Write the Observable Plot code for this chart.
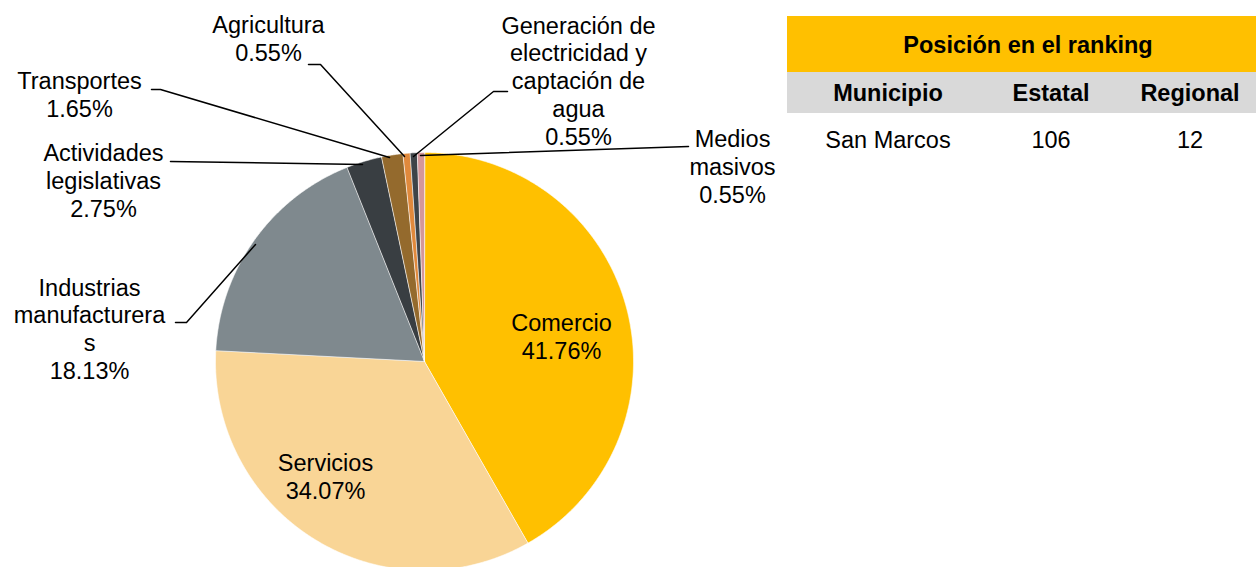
<!DOCTYPE html>
<html>
<head>
<meta charset="utf-8">
<script src="https://cdn.jsdelivr.net/npm/d3@7"></script>
<script src="https://cdn.jsdelivr.net/npm/@observablehq/plot@0.6"></script>
<style>
  html, body { margin: 0; padding: 0; background: #fff; }
  body { width: 1256px; height: 567px; position: relative; overflow: hidden; font-family: "Liberation Sans", Arial, sans-serif; }
  #chart { position: absolute; left: 0; top: 0; }
  .band { position: absolute; left: 787px; width: 469px; }
  .cell { position: absolute; transform: translate(-50%, -50%); font-size: 23.5px; color: #000; white-space: nowrap; }
  .b { font-weight: bold; }
</style>
</head>
<body>
<div id="chart"></div>
<div class="band" style="top:16px;height:56px;background:#FFC000"></div>
<div class="band" style="top:72px;height:41px;background:#D9D9D9"></div>
<div id="table"></div>
<script>
// ---- data ----
const sectors = ["Comercio", "Servicios", "Industrias manufactureras", "Actividades legislativas", "Transportes", "Agricultura", "Generación de electricidad y captación de agua", "Medios masivos"];
const shares = [41.76, 34.07, 18.13, 2.75, 1.65, 0.55, 0.55, 0.55];
const colors = ["#FFC000", "#F9D596", "#7F898E", "#393E42", "#946A2D", "#E0893C", "#3E4448", "#D4979A"];
const labelText = ["Comercio\n41.76%", "Servicios\n34.07%", "Industrias\nmanufacturera\ns\n18.13%", "Actividades\nlegislativas\n2.75%", "Transportes\n1.65%", "Agricultura\n0.55%", "Generación de\nelectricidad y\ncaptación de\nagua\n0.55%", "Medios\nmasivos\n0.55%"];
const tableTitle = "Posición en el ranking";
const tableHeaders = ["Municipio", "Estatal", "Regional"];
const tableRow = ["San Marcos", "106", "12"];

// ---- layout ----
const cx = 424, cy = 361, R = 209;
const labelPos = [[561, 336], [325, 476], [89, 328], [103, 180], [79, 94], [268, 38], [578, 80], [732, 166]];
const leaderPts = [
  null, null,
  [[175, 322], [186, 322], [255, 244]],
  [[170, 161], [362, 164]],
  [[151, 89], [160, 89], [389, 157]],
  [[308, 64], [320, 64], [404, 156]],
  [[507, 91], [493, 91], [413, 156]],
  [[688, 146], [420, 155]]
];

const pie = d3.pie().sort(null).value(d => d.v)(sectors.map((n, i) => ({n, v: shares[i]})));
const poly = [];
pie.forEach(p => {
  const name = p.data.n;
  poly.push({name, x: cx, y: cy});
  const steps = Math.max(2, Math.ceil((p.endAngle - p.startAngle) / 0.005));
  for (let k = 0; k <= steps; k++) {
    const a = p.startAngle + (p.endAngle - p.startAngle) * k / steps;
    poly.push({name, x: cx + R * Math.sin(a), y: cy - R * Math.cos(a)});
  }
});
const leaders = [];
leaderPts.forEach((pts, i) => { if (pts) pts.forEach(([x, y]) => leaders.push({name: sectors[i], x, y})); });
const labels = sectors.map((n, i) => ({name: n, text: labelText[i], x: labelPos[i][0], y: labelPos[i][1]}));

const chart = Plot.plot({
  width: 1256, height: 567,
  margin: 0,
  x: {domain: [0, 1256], range: [0, 1256], axis: null},
  y: {domain: [0, 567], range: [0, 567], axis: null},
  color: {domain: sectors, range: colors},
  style: {fontFamily: "'Liberation Sans', Arial, sans-serif", background: "transparent"},
  marks: [
    Plot.line(poly, {x: "x", y: "y", z: "name", fill: "name", stroke: "white", strokeWidth: 0.6, curve: "linear-closed"}),
    Plot.line(leaders, {x: "x", y: "y", z: "name", stroke: "#000", strokeWidth: 1.5}),
    Plot.text(labels, {x: "x", y: "y", text: "text", fontSize: 23.5, lineHeight: 1.19, fill: "#000", textAnchor: "middle"})
  ]
});
document.getElementById("chart").appendChild(chart);

// ---- table ----
const tbl = document.getElementById("table");
function cell(txt, x, y, bold) {
  const d = document.createElement("div");
  d.className = "cell" + (bold ? " b" : "");
  d.style.left = x + "px"; d.style.top = y + "px";
  d.textContent = txt;
  tbl.appendChild(d);
}
const colX = [888, 1051, 1190];
cell(tableTitle, 1028, 45, true);
tableHeaders.forEach((h, i) => cell(h, colX[i], 93, true));
tableRow.forEach((h, i) => cell(h, colX[i], 140, false));
</script>
</body>
</html>
